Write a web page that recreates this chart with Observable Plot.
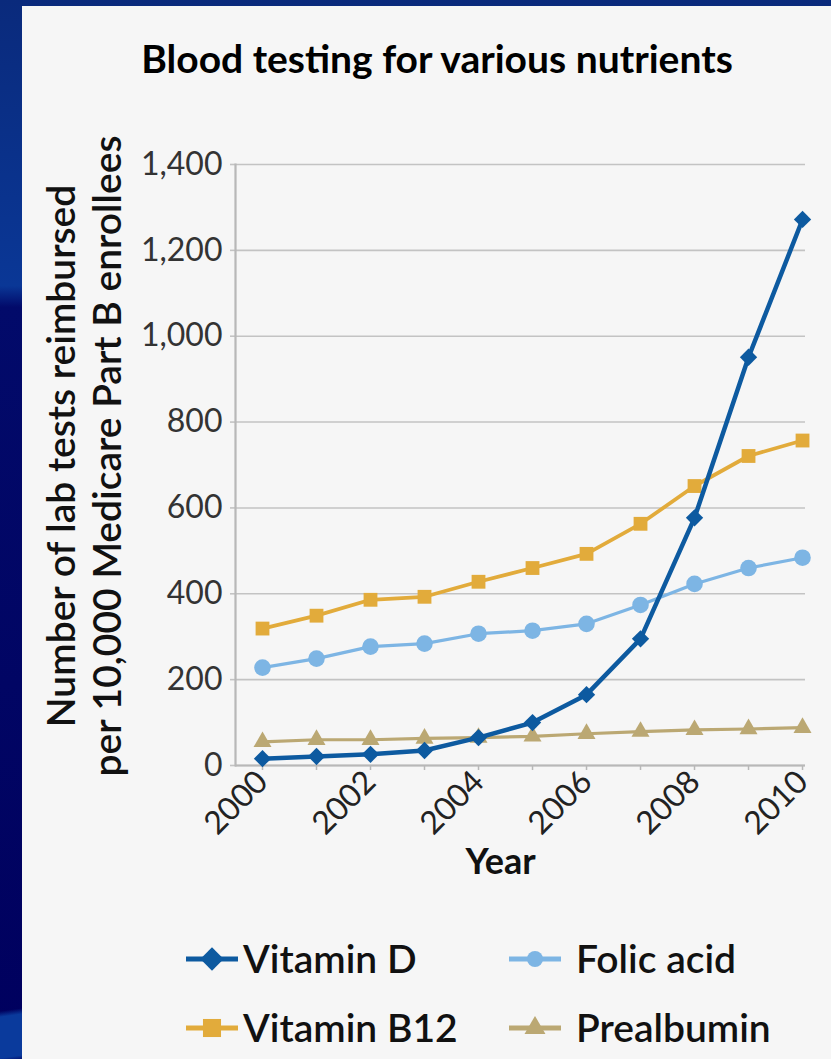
<!DOCTYPE html>
<html>
<head>
<meta charset="utf-8">
<script src="https://cdn.jsdelivr.net/npm/d3@7"></script>
<script src="https://cdn.jsdelivr.net/npm/@observablehq/plot@0.6"></script>
<style>
  html, body { margin: 0; padding: 0; }
  body {
    width: 831px; height: 1059px; overflow: hidden; position: relative;
    background:
      linear-gradient(172deg, transparent 0%, transparent 86%, #0a3a9c 86.5%, #0a3a9c 90%, transparent 90.5%),
      linear-gradient(180deg, #0a2a7c 0%, #0a3796 27%, #020a6a 29%, #00005e 100%);
    font-family: Lato, "Open Sans", sans-serif;
  }
  #panel { position: absolute; left: 22px; top: 6px; width: 809px; height: 1053px; background: #f6f6f6; }
  #title { position: absolute; left: 415px; top: 33px; transform: translateX(-50%); white-space: nowrap;
           font-size: 39px; font-weight: 700; color: #000; line-height: 1; }
  #chart { position: absolute; left: 0; top: 94px; }
  #legend { position: absolute; left: 164px; top: 918px; display: grid;
            grid-template-columns: 323px 300px; grid-auto-rows: 69px; align-items: center; }
  .item { display: flex; align-items: center; }
  .item span { font-size: 39px; font-weight: 600; color: #111; line-height: 1; }
  .item svg { flex: none; }
</style>
</head>
<body>
<div id="panel">
  <div id="title">Blood testing for various nutrients</div>
  <div id="chart"></div>
  <div id="legend"></div>
</div>
<script>
// ---- data ----
const years = [2000, 2001, 2002, 2003, 2004, 2005, 2006, 2007, 2008, 2009, 2010];
const vitaminD   = [16, 21, 26, 35, 65, 100, 165, 295, 577, 951, 1272];
const vitaminB12 = [319, 349, 386, 393, 428, 460, 493, 563, 651, 721, 757];
const folicAcid  = [228, 249, 277, 284, 307, 314, 330, 374, 423, 460, 484];
const prealbumin = [55, 60, 60, 63, 65, 68, 74, 79, 83, 85, 88];
const seriesNames = ["Vitamin D", "Folic acid", "Vitamin B12", "Prealbumin"];
const yTicks = [0, 200, 400, 600, 800, 1000, 1200, 1400];
const xTicks = years;

const seriesValues = {
  "Vitamin D": vitaminD,
  "Folic acid": folicAcid,
  "Vitamin B12": vitaminB12,
  "Prealbumin": prealbumin
};

// ---- styles ----
const style = {
  "Vitamin D":   {color: "#0d5aa0", symbol: "diamond2", r: 7.8, width: 4.5},
  "Folic acid":  {color: "#7db5e4", symbol: "circle",   r: 8.3, width: 3.2},
  "Vitamin B12": {color: "#e2ab3b", symbol: "square2",  r: 8.8, width: 3.8},
  "Prealbumin":  {color: "#bba873", symbol: "triangle2",r: 8.6, width: 3.2}
};
const drawOrder = ["Prealbumin", "Folic acid", "Vitamin B12", "Vitamin D"];

const table = seriesNames.flatMap(name =>
  years.map((year, i) => ({series: name, year, value: seriesValues[name][i]})));

const seriesMarks = drawOrder.flatMap(name => {
  const s = style[name];
  const rows = table.filter(d => d.series === name);
  return [
    Plot.line(rows, {x: "year", y: "value", stroke: s.color, strokeWidth: s.width, strokeLinejoin: "round"}),
    Plot.dot(rows, {x: "year", y: "value", symbol: () => s.symbol, fill: s.color, stroke: "none", r: s.r})
  ];
});

const chart = Plot.plot({
  width: 809,
  height: 800,
  marginLeft: 213,
  marginRight: 26,
  marginTop: 64,
  marginBottom: 135,
  style: {fontFamily: "Lato, sans-serif", background: "transparent", overflow: "visible"},
  symbol: {type: "identity"},
  x: {domain: [1999.5, 2010.055], axis: null, label: null},
  y: {domain: [0, 1400], axis: null, label: null},
  marks: [
    Plot.gridY(yTicks, {stroke: "#c3c3c3", strokeOpacity: 1, strokeWidth: 1.6}),
    Plot.axisY(yTicks, {tickSize: 5, tickPadding: 8, stroke: "#c3c3c3", strokeWidth: 1.6, fill: "#333",
      fontSize: 32, label: null, tickFormat: d3.format(",")}),
    Plot.axisX(xTicks, {tickSize: 5, tickPadding: 6, stroke: "#b8b8b8", strokeWidth: 1.5, fill: "#222",
      fontSize: 32, label: null, tickRotate: -45, tickFormat: d => (d % 2 === 0 ? String(d) : "")}),
    Plot.frame({anchor: "left", stroke: "#b8b8b8", strokeWidth: 2.2}),
    Plot.ruleY([0], {stroke: "#b8b8b8", strokeWidth: 1.8}),
    ...seriesMarks,
    Plot.text(["Number of lab tests reimbursed\nper 10,000 Medicare Part B enrollees"], {
      text: d => d, frameAnchor: "left", rotate: -90, dx: -152, dy: -9,
      lineAnchor: "middle", textAnchor: "middle", lineHeight: 1.16,
      fontSize: 39, fontWeight: 600, fill: "#111"
    }),
    Plot.text(["Year"], {
      text: d => d, frameAnchor: "bottom", dx: -20, dy: 97, lineAnchor: "middle",
      fontSize: 36, fontWeight: 700, fill: "#111"
    })
  ]
});
document.getElementById("chart").appendChild(chart);

// ---- legend ----
const legendOrder = ["Vitamin D", "Folic acid", "Vitamin B12", "Prealbumin"];
const legend = d3.select("#legend");
legendOrder.forEach((name, i) => {
  const s = style[name];
  const item = legend.append("div").attr("class", "item");
  const svg = item.append("svg").attr("width", 52).attr("height", 28);
  svg.append("line").attr("x1", 0).attr("x2", 52).attr("y1", 14).attr("y2", 14)
    .attr("stroke", s.color).attr("stroke-width", 5).attr("stroke-linecap", "round");
  const sym = {diamond2: d3.symbolDiamond2, circle: d3.symbolCircle, square2: d3.symbolSquare2, triangle2: d3.symbolTriangle2}[s.symbol];
  const rr = {diamond2: 10.5, circle: 8, square2: 11.5, triangle2: 10}[s.symbol];
  svg.append("path").attr("transform", "translate(26,14)")
    .attr("d", d3.symbol(sym, Math.PI * rr * rr)()).attr("fill", s.color);
  item.append("span").style("margin-left", (i % 2 === 0 ? 5 : 15) + "px").text(name);
});
</script>
</body>
</html>
